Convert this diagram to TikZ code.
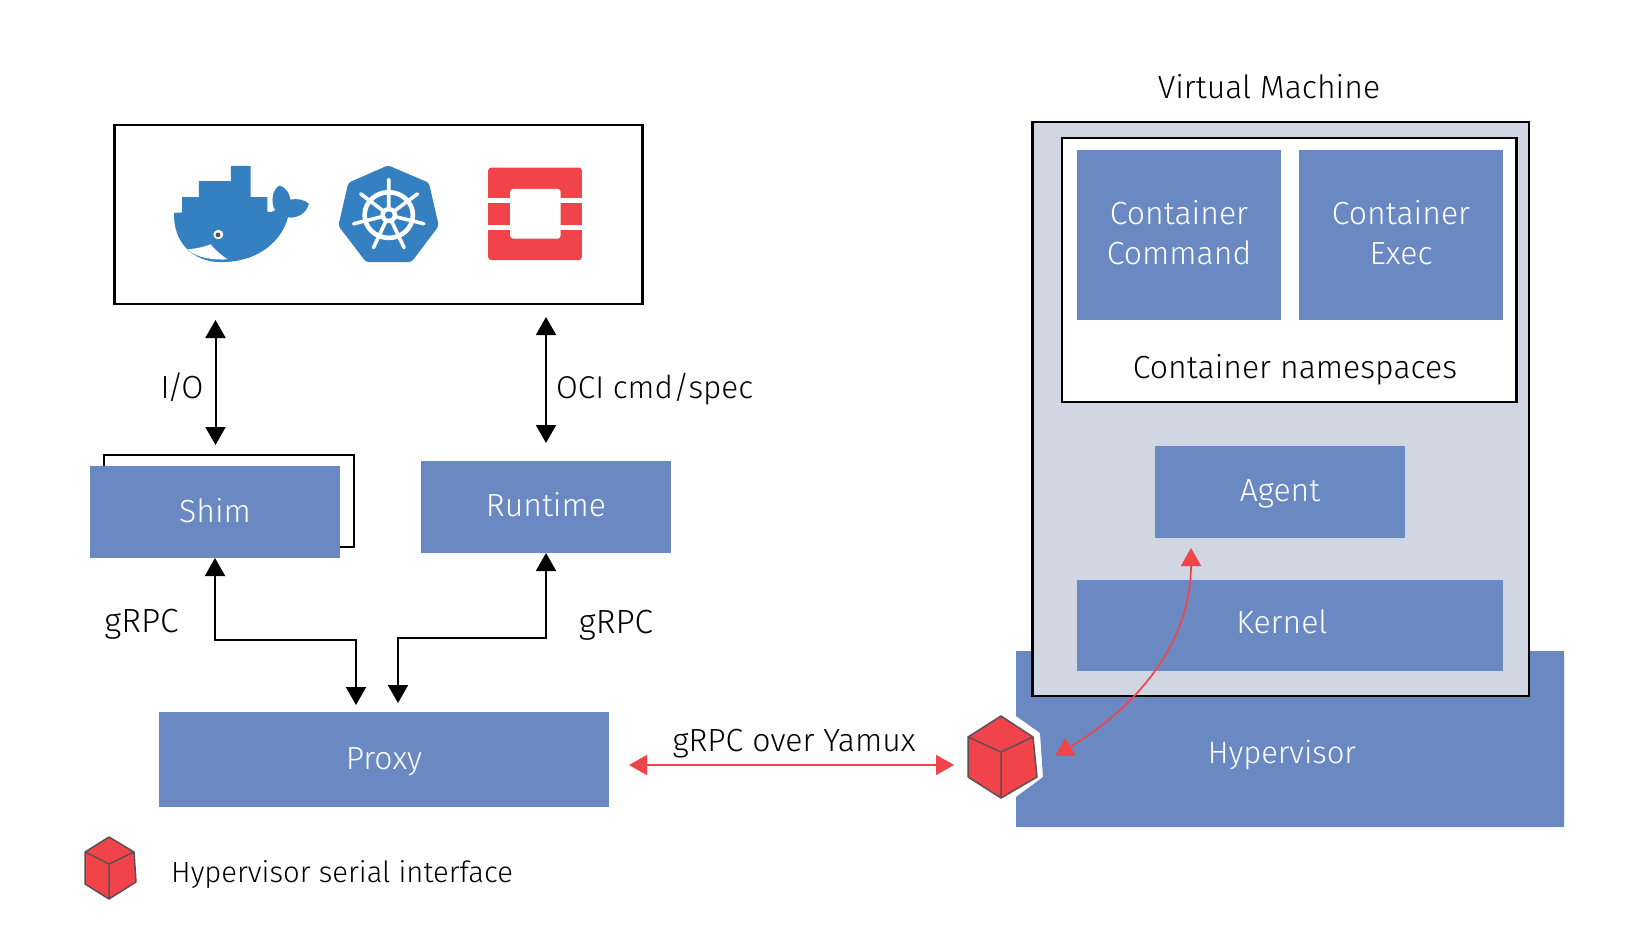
\documentclass[tikz,border=0pt]{standalone}
\usepackage{fontspec}
\setmainfont{Fira Sans}[UprightFont=* Light]
\usetikzlibrary{arrows.meta}
\definecolor{boxblue}{HTML}{6A89C2}
\definecolor{vmgray}{HTML}{D0D6E2}
\definecolor{redc}{HTML}{F0444A}
\definecolor{logoblue}{HTML}{3580C0}
\definecolor{edgegray}{HTML}{5A5055}
\newcommand{\up}[2]{\raisebox{#1pt}[\height][\depth]{#2}}
\tikzset{
  bluebox/.style={fill=boxblue,draw=none,text=white,anchor=north west,inner sep=0pt,outer sep=0pt,align=center,font=\fontsize{32}{40}\selectfont},
  frame/.style={draw=black,line width=2.2pt,anchor=north west,inner sep=0pt,outer sep=0pt},
  lab/.style={text=black,inner sep=0pt,font=\fontsize{32}{40}\selectfont},
  wlab/.style={text=white,inner sep=0pt,font=\fontsize{32}{40}\selectfont},
  blackarrow/.style={draw=black,line width=2pt,{Triangle[width=20pt,length=18pt]}-{Triangle[width=20pt,length=18pt]}},
  redarrow/.style={draw=redc,line width=1.7pt,{Triangle[width=20pt,length=18pt]}-{Triangle[width=20pt,length=18pt]}},
  cubeface/.style={fill=redc,draw=edgegray,line width=1.5pt,line join=round},
}
\begin{document}
\begin{tikzpicture}[x=1pt,y=-1pt]
\useasboundingbox (0,0) rectangle (1632,940);
\fill[white] (0,0) rectangle (1632,940);

% left side
\node[frame,fill=white,minimum width=528pt,minimum height=179pt] (engines) at (114.5,125) {};

% whale
\begin{scope}[shift={(100.5,108.2)},x=0.355pt,y=-0.336pt]
  \fill[logoblue] (207,312) -- (230,310) -- (230,265) -- (277,265) -- (277,217) -- (367,217) -- (367,172) -- (423,172) -- (423,265) -- (470,265) -- (470,308)
    .. controls (478,311) and (486,309) .. (492,304)
    .. controls (478,280) and (484,240) .. (505,230)
    .. controls (524,238) and (532,252) .. (535,272)
    .. controls (552,268) and (577,272) .. (587,285)
    .. controls (580,312) and (555,329) .. (528,325)
    .. controls (512,390) and (450,458) .. (340,458)
    .. controls (260,458) and (205,400) .. (207,312) -- cycle;
  \fill[white] (246,420) .. controls (270,418) and (295,412) .. (310,405) .. controls (325,425) and (345,440) .. (358,450) .. controls (320,452) and (270,447) .. (246,420) -- cycle;
  \fill[white] (332,376) circle[x radius=14,y radius=14];
  \fill[edgegray] (331,377) circle[x radius=7,y radius=7];
  % helm
  \begin{scope}[shift={(3,0)}]
  \fill[logoblue,rounded corners=3pt] (807,170) -- (922,222) -- (950,350) -- (873,458) -- (745,458) -- (667,350) -- (695,222) -- cycle;
  \draw[white,line width=4.6pt] (809,318) circle[x radius=68,y radius=68];
  \draw[white,line width=3.6pt,line cap=round]
    (809,318) -- (809,212) (809,318) -- (730,255) (809,318) -- (890,255)
    (809,318) -- (710,344) (809,318) -- (908,344)
    (809,318) -- (766,415) (809,318) -- (852,415);
  \fill[white] (809,318) circle[x radius=24,y radius=24];
  \fill[logoblue] (809,318) circle[x radius=11,y radius=11];
  \end{scope}
  % openshift
  \begin{scope}[shift={(6,0)}]
  \fill[redc,rounded corners=3pt] (1086,177) rectangle (1350,452);
  \fill[white] (1086,268) rectangle (1350,282);
  \fill[white] (1086,349) rectangle (1350,362);
  \fill[white,rounded corners=3pt] (1148,240) rectangle (1290,388);
  \end{scope}
\end{scope}

\draw[black,line width=2pt,fill=white] (104,455) rectangle (354,547);
\node[bluebox,minimum width=250pt,minimum height=92pt] (shim) at (90,466) {\up{1.5}{Shim}};
\node[bluebox,minimum width=250pt,minimum height=92pt] (runtime) at (421,461) {\up{2.5}{Runtime}};
\node[bluebox,minimum width=450pt,minimum height=95pt] (proxy) at (159,712) {\up{-2}{Proxy}};

\coordinate (io1) at (215.5,320); \coordinate (io2) at (215.5,445);
\coordinate (oci1) at (546,317); \coordinate (oci2) at (546,443);
\draw[blackarrow] (io1) -- (io2);
\draw[blackarrow] (oci1) -- (oci2);
\node[lab] (iolab) at (182,387) {I\kern-2.5pt/\kern-2.5pt O};
\node[lab,anchor=west,font=\fontsize{31.5}{40}\selectfont] (ocilab) at (556,389) {OCI cmd/spec};

\coordinate (pa) at (356,705); \coordinate (pb) at (398,703);
\draw[blackarrow] (shim.south) -- (215,640) -- (356,640) -- (pa);
\draw[blackarrow] (runtime.south) -- (546,638) -- (398,638) -- (pb);
\node[lab,font=\fontsize{33.5}{40}\selectfont] (g1) at (141.5,624) {gRPC};
\node[lab,font=\fontsize{33.5}{40}\selectfont] (g2) at (616,625) {gRPC};

% hypervisor
\fill[boxblue] (1016,651) -- (1564,651) -- (1564,827) -- (1016,827) -- (1016,797) -- (1043,777) -- (1040,733) -- (1016,716) -- cycle;
\node[wlab,font=\fontsize{31}{40}\selectfont] (hyp) at (1282,755) {Hypervisor};

% VM
\node[frame,fill=vmgray,minimum width=496.5pt,minimum height=574pt] (vm) at (1032.5,122) {};
\node[frame,fill=white,minimum width=454.5pt,minimum height=264pt] (ns) at (1062,138) {};
\node[bluebox,minimum width=204pt,minimum height=170pt] (cmd) at (1077,150) {\up{2}{Container}\\\up{2}{Command}};
\node[bluebox,minimum width=204pt,minimum height=170pt] (exec) at (1299,150) {\up{2}{Container}\\\up{2}{Exec}};
\node[bluebox,minimum width=250pt,minimum height=92pt] (agent) at (1155,446) {\up{-1.5}{Agent}};
\node[bluebox,minimum width=426pt,minimum height=91pt] (kernel) at (1077,580) {};
\node[wlab] (klab) at (1282,622) {Kernel};
\node[lab] (nslab) at (1295,370) {Container namespaces};
\node[lab] (vmlab) at (1269,87) {Virtual Machine};

% grpc over yamux
\coordinate (y1) at (629,765); \coordinate (y2) at (954,765);
\draw[redarrow] (y1) -- (y2);
\node[lab] (ylab) at (794,744) {gRPC over Yamux};

% cube
\coordinate (c) at (1001,752);
\draw[cubeface] (1001,716) -- (1033,737) -- (1037,777) -- (1001,798) -- (968,777) -- (968,737) -- cycle;
\draw[cubeface,fill=none] (968,737) -- (c) -- (1033,737) (c) -- (1001,798);

% curved red
\coordinate (k1) at (1191,548); \coordinate (k2) at (1055,756);
\draw[redarrow] (k1) .. controls (1191,640) and (1140,705) .. (k2);

% legend
\coordinate (lc) at (109,864);
\draw[cubeface] (109,837) -- (134,852) -- (136,882) -- (109,899) -- (85,884) -- (85,852) -- cycle;
\draw[cubeface,fill=none] (85,852) -- (lc) -- (134,852) (lc) -- (109,899);
\node[lab,anchor=west,font=\fontsize{29.2}{40}\selectfont] (leg) at (171,874) {Hypervisor serial interface};
\end{tikzpicture}
\end{document}
